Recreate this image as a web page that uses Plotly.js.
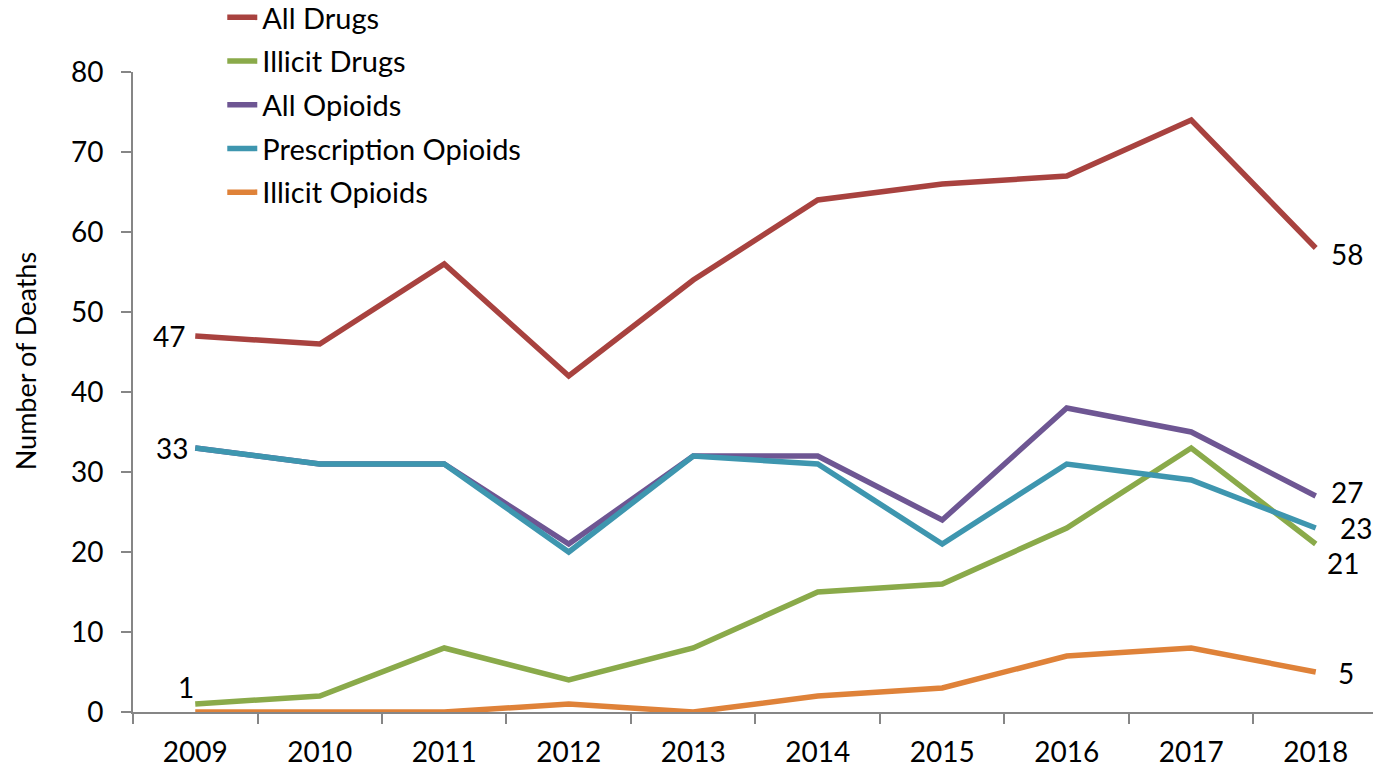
<!DOCTYPE html>
<html>
<head>
<meta charset="utf-8">
<script src="https://cdn.plot.ly/plotly-3.0.1.min.js"></script>
<style>html,body{margin:0;padding:0;background:#fff;}#chart{width:1373px;height:769px;}</style>
</head>
<body>
<div id="chart"></div>
<script>
const years = ['2009','2010','2011','2012','2013','2014','2015','2016','2017','2018'];
const allDrugs = [47,46,56,42,54,64,66,67,74,58];
const illicitDrugs = [1,2,8,4,8,15,16,23,33,21];
const allOpioids = [33,31,31,21,32,32,24,38,35,27];
const prescriptionOpioids = [33,31,31,20,32,31,21,31,29,23];
const illicitOpioids = [0,0,0,1,0,2,3,7,8,5];
const yTicks = [0,10,20,30,40,50,60,70,80];

const seriesNames = ['All Drugs','Illicit Drugs','All Opioids','Prescription Opioids','Illicit Opioids'];
const seriesData = [allDrugs, illicitDrugs, allOpioids, prescriptionOpioids, illicitOpioids];
const seriesColors = ['#A8423F','#8AAA4A','#6E5693','#3E96AF','#DF8239'];

const FONT = 'Lato, "Liberation Sans", sans-serif';

const traces = seriesNames.map((n,i)=>({
  type:'scatter', mode:'lines', name:n, x:years, y:seriesData[i],
  legendgroup:'g'+i,
  line:{color:seriesColors[i], width:5.5}
}));

const first = 0;
const last = years.length-1;
const labelFont = {family:FONT, size:28, color:'#000'};
function ann(idx,y,xanchor,xshift,yshift){
  return {x:idx, y:y, xref:'x', yref:'y', text:String(y), showarrow:false,
    xanchor:xanchor, yanchor:'middle', xshift:xshift, yshift:yshift, font:labelFont};
}
const annotations = [
  ann(first, allDrugs[first], 'right', -8, 0),
  ann(first, allOpioids[first], 'right', -5, 0),
  ann(first, illicitDrugs[first], 'right', 1, 17),
  ann(last, allDrugs[last], 'left', 13, -6),
  ann(last, allOpioids[last], 'left', 13, 4),
  ann(last, prescriptionOpioids[last], 'left', 22, 0),
  ann(last, illicitDrugs[last], 'left', 9, -19),
  ann(last, illicitOpioids[last], 'left', 20, -1),
  {x:-0.0871, y:0.548, xref:'paper', yref:'paper', text:'Number of Deaths', textangle:-90,
   showarrow:false, xanchor:'center', yanchor:'middle', font:{family:FONT, size:27, color:'#000'}}
];

const layout = {
  width:1373, height:769,
  margin:{l:133, r:0, t:72, b:57, pad:0, autoexpand:false},
  paper_bgcolor:'#fff', plot_bgcolor:'#fff',
  font:{family:FONT, size:28, color:'#000'},
  showlegend:true,
  legend:{x:0.072, xanchor:'left', y:1.125, yanchor:'top', yref:'paper',
    bgcolor:'rgba(0,0,0,0)', borderwidth:0, tracegroupgap:3,
    font:{family:FONT, size:29, color:'#000'}},
  xaxis:{type:'category', range:[-0.5, 9.46], showgrid:false, zeroline:false,
    showline:true, linecolor:'#868686', linewidth:2,
    ticks:'outside', ticklen:10, tickwidth:2, tickcolor:'#868686', tickson:'boundaries',
    tickfont:{family:FONT, size:28, color:'#000'}, ticklabelstandoff:14},
  yaxis:{range:[0,80], tickvals:yTicks, ticktext:yTicks.map(String), showgrid:false, zeroline:false,
    showline:true, linecolor:'#868686', linewidth:2,
    ticks:'outside', ticklen:10, tickwidth:2, tickcolor:'#868686',
    tickfont:{family:FONT, size:28, color:'#000'}, ticklabelstandoff:12},
  annotations:annotations
};

Plotly.newPlot('chart', traces, layout, {displayModeBar:false, staticPlot:true});
</script>
</body>
</html>
